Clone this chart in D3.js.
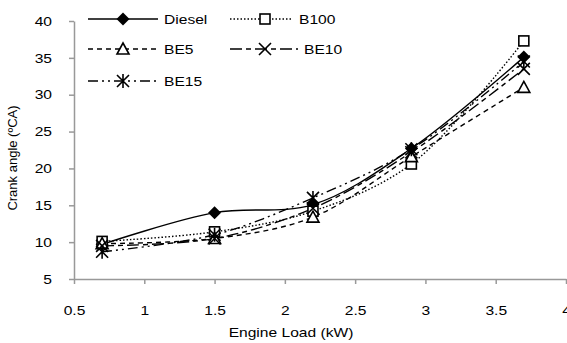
<!DOCTYPE html>
<html>
<head>
<meta charset="utf-8">
<script src="https://cdn.jsdelivr.net/npm/d3@7"></script>
<style>
  body { margin: 0; background: #fff; }
  svg text { font-family: "Liberation Sans", Arial, sans-serif; fill: #000; }
</style>
</head>
<body>
<svg id="chart" width="567" height="343"></svg>
<script>
// ---- data ----
const loads = [0.7, 1.5, 2.2, 2.9, 3.7];
const diesel = [9.7, 14.0, 15.1, 22.7, 35.1];
const b100 = [10.1, 11.4, 14.2, 20.6, 37.3];
const be5 = [9.8, 10.5, 13.4, 21.6, 31.0];
const be10 = [9.5, 10.5, 14.6, 22.2, 33.5];
const be15 = [8.7, 11.0, 16.0, 22.6, 34.5];
const xTicks = [0.5, 1, 1.5, 2, 2.5, 3, 3.5, 4];
const yTicks = [5, 10, 15, 20, 25, 30, 35, 40];

const series = [
  { name: 'Diesel', vals: diesel, dash: null, marker: 'diamond' },
  { name: 'B100', vals: b100, dash: '1.5,2', marker: 'square' },
  { name: 'BE5', vals: be5, dash: '5,4', marker: 'triangle' },
  { name: 'BE10', vals: be10, dash: '12,4,5,4', marker: 'cross' },
  { name: 'BE15', vals: be15, dash: '10,4,2,4,2,4', marker: 'star' },
];

const SX = 1.2; // text in the picture is stretched sideways
const svg = d3.select('#chart');
const x = d3.scaleLinear().domain([0.5, 4]).range([74, 566]);
const y = d3.scaleLinear().domain([5, 40]).range([279, 21]);

// ---- axes ----
const xAxis = svg.append('g').attr('transform', 'translate(0,279)')
  .call(d3.axisBottom(x).tickValues(xTicks).tickSize(5).tickSizeOuter(0).tickFormat(d3.format('')));
const yAxis = svg.append('g').attr('transform', 'translate(74,0)')
  .call(d3.axisLeft(y).tickValues(yTicks).tickSize(5).tickSizeOuter(0));
[xAxis, yAxis].forEach(a => {
  a.select('.domain').attr('stroke', '#999').attr('stroke-width', 1.5);
  a.selectAll('.tick line').attr('stroke', '#999').attr('stroke-width', 1.5);
  a.selectAll('.tick text').attr('font-size', 13)
    .attr('font-family', '"Liberation Sans", Arial, sans-serif')
    .attr('transform', `scale(${SX},1)`);
});
xAxis.selectAll('.tick text').attr('y', 0).attr('dy', 0).attr('dominant-baseline', 'auto')
  .attr('transform', `translate(0,36) scale(${SX},1)`);
yAxis.selectAll('.tick text').attr('x', -22 / SX);

svg.append('text').attr('transform', `translate(291,337) scale(${SX},1)`).attr('text-anchor', 'middle')
  .attr('font-size', 13).text('Engine Load (kW)');
svg.append('text').attr('transform', 'translate(17,158) rotate(-90)').attr('text-anchor', 'middle')
  .attr('font-size', 13).text('Crank angle (ºCA)');

// ---- markers ----
function drawMarker(g, type, cx, cy) {
  const m = g.append('g').attr('transform', `translate(${cx},${cy})`);
  if (type === 'diamond') {
    m.append('path').attr('d', 'M0,-6.5L6.5,0L0,6.5L-6.5,0Z').attr('fill', '#000');
  } else if (type === 'square') {
    m.append('rect').attr('x', -5).attr('y', -5).attr('width', 10).attr('height', 10)
      .attr('fill', '#fff').attr('stroke', '#000').attr('stroke-width', 1.6);
  } else if (type === 'triangle') {
    m.append('path').attr('d', 'M0,-6L6,5L-6,5Z')
      .attr('fill', '#fff').attr('stroke', '#000').attr('stroke-width', 1.6);
  } else if (type === 'cross') {
    m.append('path').attr('d', 'M-6,-6L6,6M-6,6L6,-6').attr('stroke', '#000').attr('stroke-width', 1.6);
  } else if (type === 'star') {
    m.append('path').attr('d', 'M-6,-6L6,6M-6,6L6,-6M0,-7L0,7').attr('stroke', '#000').attr('stroke-width', 1.6);
  }
}

// ---- lines ----
const line = d3.line().x(d => x(d[0])).y(d => y(d[1])).curve(d3.curveCatmullRom.alpha(0.5));
series.forEach(s => {
  const pts = loads.map((l, i) => [l, s.vals[i]]);
  svg.append('path').datum(pts).attr('d', line).attr('fill', 'none')
    .attr('stroke', '#000').attr('stroke-width', 1.4)
    .attr('stroke-dasharray', s.dash);
});
series.forEach(s => {
  const g = svg.append('g');
  loads.forEach((l, i) => drawMarker(g, s.marker, x(l), y(s.vals[i])));
});

// ---- legend ----
const legendPos = [[88, 19, 164], [230, 19, 299], [88, 49, 164], [230, 49, 304], [88, 81, 164]];
series.forEach((s, i) => {
  const [lx, ly, tx] = legendPos[i];
  const g = svg.append('g');
  g.append('line').attr('x1', lx).attr('x2', tx - 6).attr('y1', ly).attr('y2', ly)
    .attr('stroke', '#000').attr('stroke-width', 1.4).attr('stroke-dasharray', s.dash);
  drawMarker(g, s.marker, lx + 35, ly);
  g.append('text').attr('transform', `translate(${tx},${ly + 5}) scale(${SX},1)`)
    .attr('font-size', 13).text(s.name);
});
</script>
</body>
</html>
